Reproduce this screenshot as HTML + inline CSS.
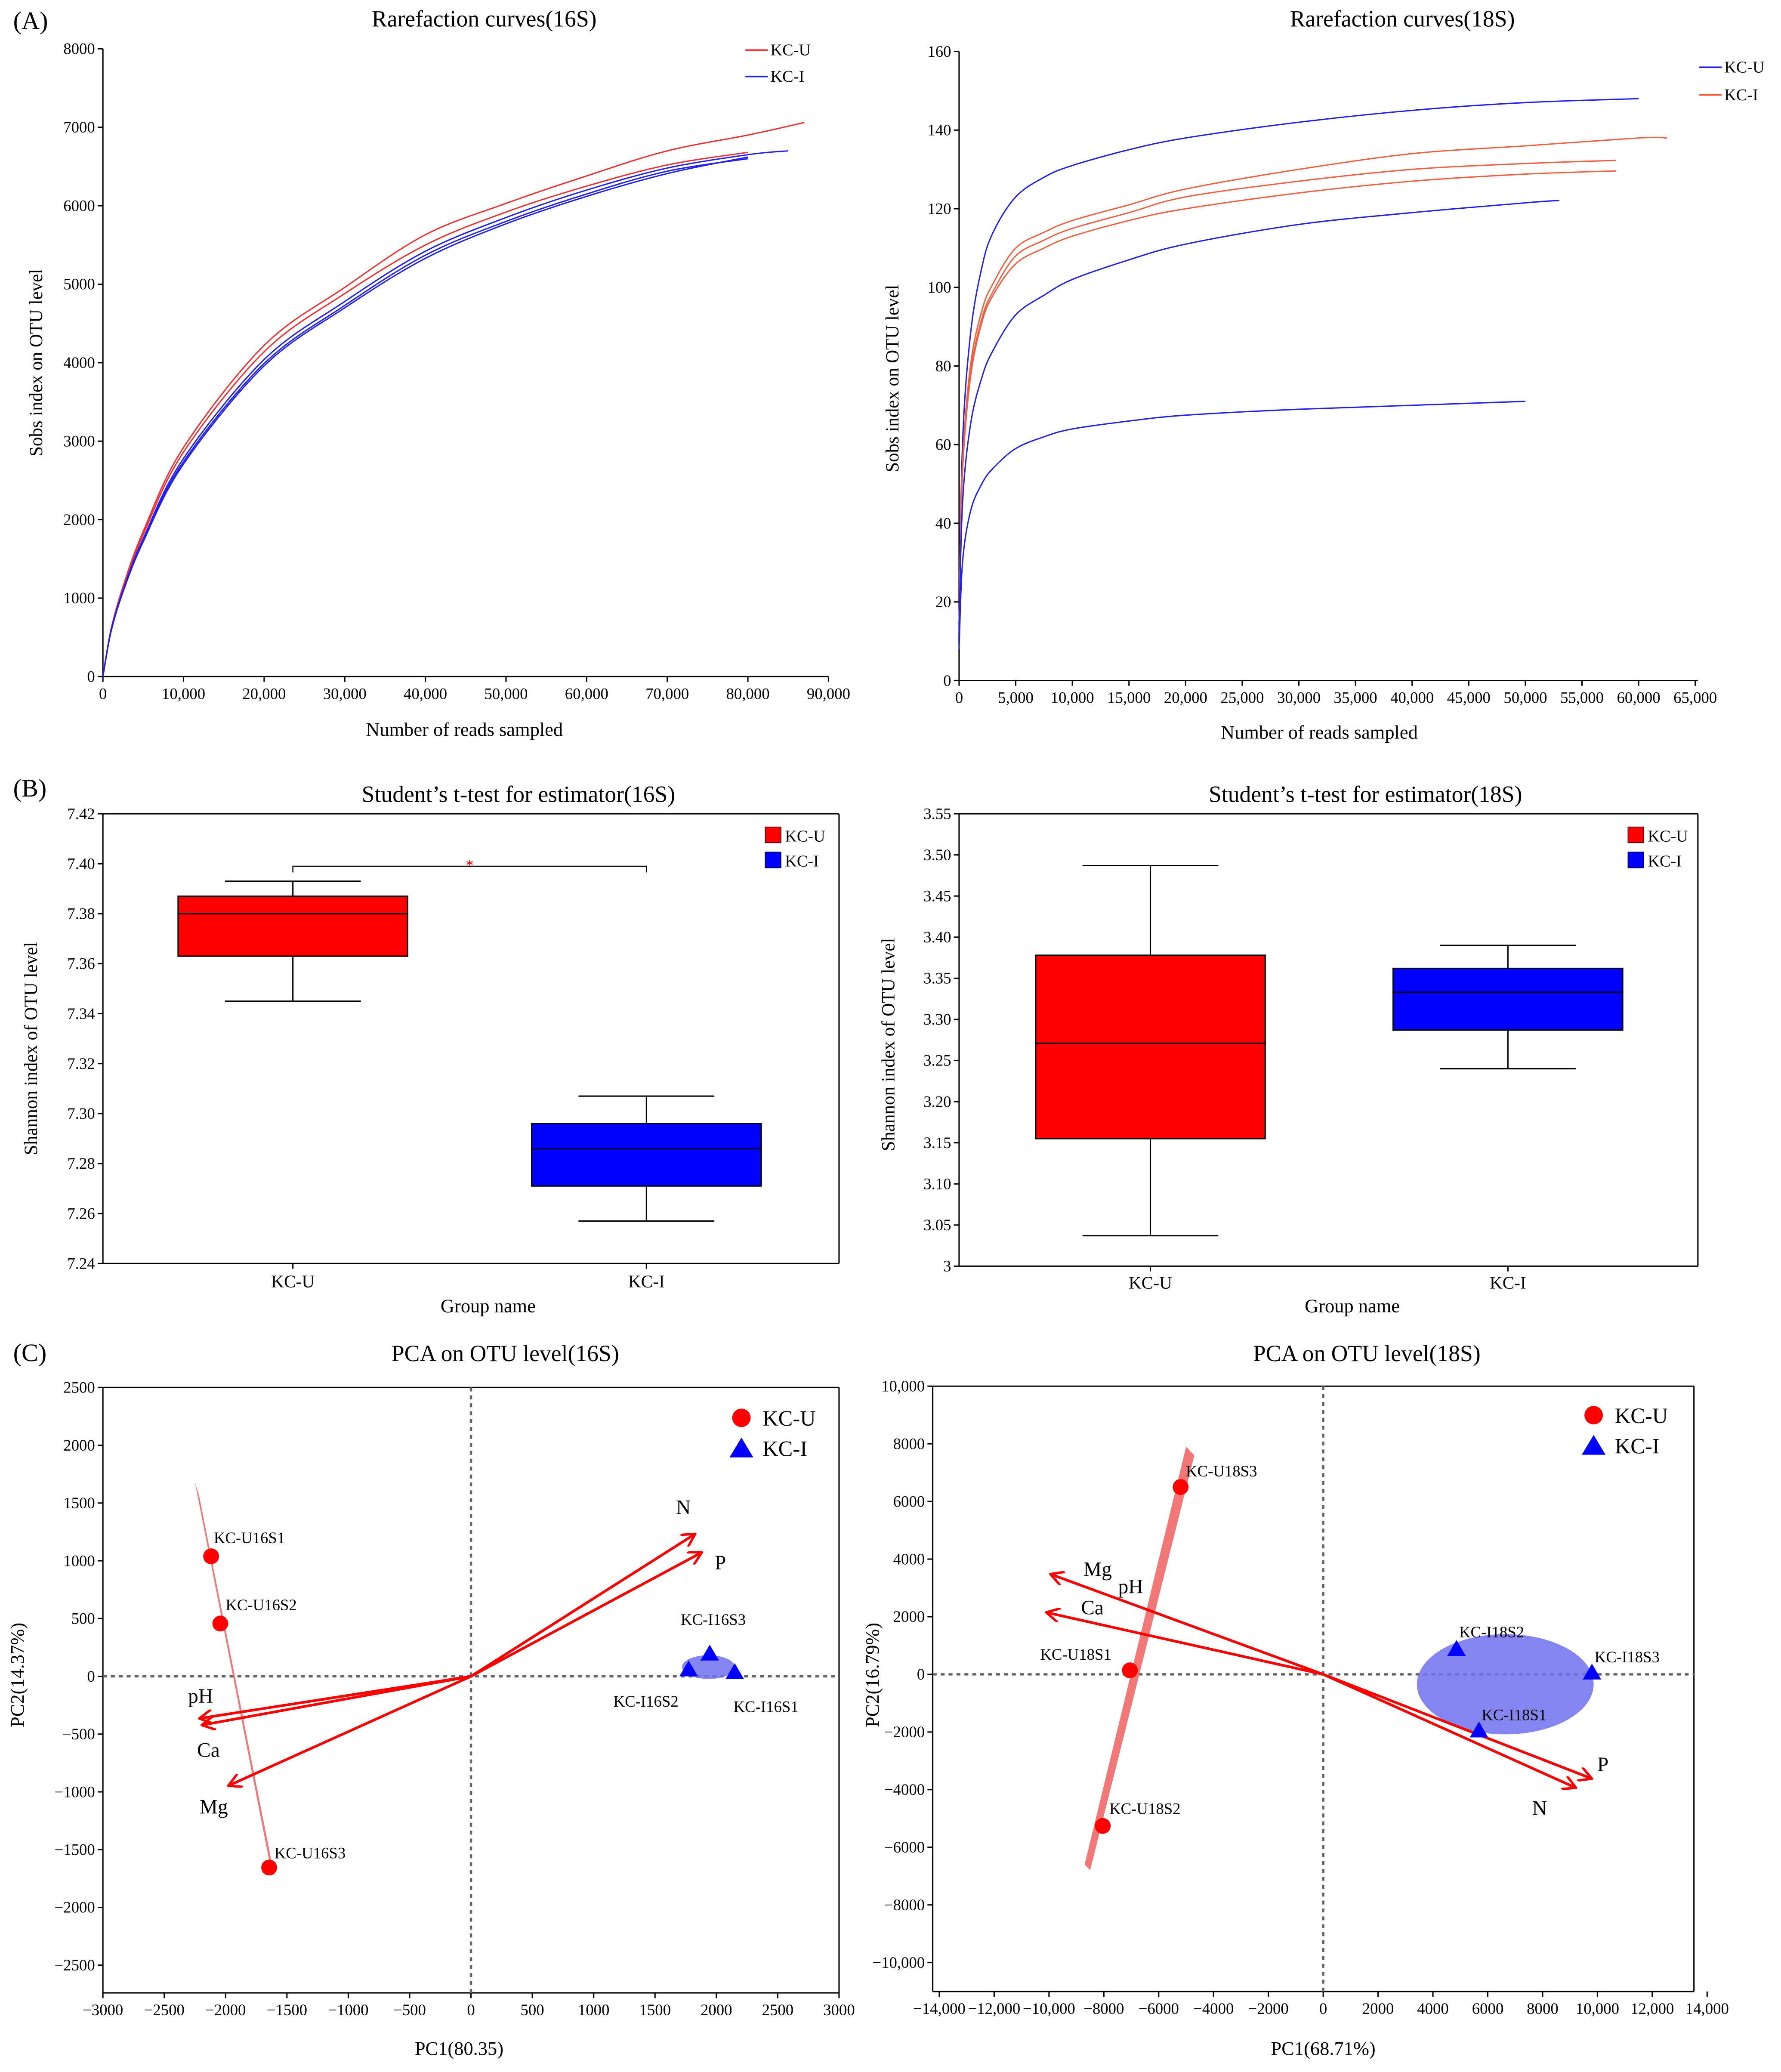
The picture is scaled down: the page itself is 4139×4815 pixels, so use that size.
<!DOCTYPE html>
<html><head><meta charset="utf-8"><style>
html,body{margin:0;padding:0;background:#fff;}
svg{display:block;font-family:"Liberation Serif",serif;}
</style></head><body>
<svg id="fig" width="4139" height="4815" viewBox="0 0 1350 1571" preserveAspectRatio="none" xmlns="http://www.w3.org/2000/svg">
<defs>
<marker id="ah" viewBox="0 0 12 12" refX="11" refY="6" markerWidth="11" markerHeight="11" orient="auto" markerUnits="userSpaceOnUse">
<path d="M0,0 L11,6 L0,12" fill="none" stroke="#f00" stroke-width="2"/></marker>
</defs>
<g id="root"></g>
</svg>
<script>
// ---------- Data: Rarefaction 16S ----------
const r16X = [0,1000,2500,5000,10000,20000,30000,40000,50000,60000,70000,80000,87000];
const r16Red1 = [0,600,1150,1850,2920,4220,4960,5630,6030,6380,6700,6900,7060];
const r16Red2 = [0,590,1130,1810,2860,4140,4880,5500,5920,6250,6520,6680];
const r16Blue1 = [0,580,1100,1760,2780,4040,4780,5420,5850,6200,6480,6650,6720];
const r16Blue2 = [0,575,1090,1740,2740,3990,4730,5370,5800,6150,6440,6600];
const r16Blue3 = [0,570,1080,1720,2710,3960,4700,5330,5770,6120,6410,6620];
const r16EndX = [87000,80000,85000,80000,82000];
// ---------- Data: Rarefaction 18S ----------
const r18X = [0,300,1000,2000,3000,5000,7500,10000,15000,20000,30000,40000,50000,60000,62500];
const r18Blue1 = [12,60,88,105,114,123,128,131,135,138,142,145,147,148];
const r18Red1 = [15,55,80,94,101,110,114,117,121,125,130,134,136,138,138];
const r18Red2 = [15,54,78,92,99,108,112,115,119,123,127,130,131.5,132.5];
const r18Red3 = [15,53,77,91,98,106,110,113,117,120,124,127,128.8,129.8];
const r18Blue2 = [12,45,65,77,84,93,98,102,107,111,116,119,121.5,123.5];
const r18Blue3 = [8,30,43,50,54,59,62,64,66,67.5,69,70,71];
const r18End = [60000,62500,58000,58000,53000,50000];
// ---------- Data: box plots ----------
const box16Groups = ["KC-U","KC-I"];
const box16Min = [7.345,7.257], box16Q1=[7.363,7.271], box16Med=[7.380,7.286], box16Q3=[7.387,7.296], box16Max=[7.393,7.307];
const box16Ticks = [7.24,7.26,7.28,7.30,7.32,7.34,7.36,7.38,7.40,7.42];
const box18Groups = ["KC-U","KC-I"];
const box18Min = [3.037,3.240], box18Q1=[3.155,3.287], box18Med=[3.271,3.333], box18Q3=[3.378,3.362], box18Max=[3.487,3.390];
// ---------- Data: PCA 16S ----------
const p16UNames=["KC-U16S1","KC-U16S2","KC-U16S3"], p16UX=[-2118,-2043,-1645], p16UY=[1039,457,-1655];
const p16INames=["KC-I16S1","KC-I16S2","KC-I16S3"], p16IX=[2150,1774,1946], p16IY=[34,57,194];
const p16ArrNames=["N","P","pH","Ca","Mg"], p16ArrX=[1828,1882,-2215,-2194,-1978], p16ArrY=[1233,1073,-365,-422,-947];
// ---------- Data: PCA 18S ----------
const p18UNames=["KC-U18S3","KC-U18S1","KC-U18S2"], p18UX=[-5200,-7050,-8040], p18UY=[6500,140,-5260];
const p18INames=["KC-I18S2","KC-I18S3","KC-I18S1"], p18IX=[4860,9800,5680], p18IY=[870,50,-1960];
const p18ArrNames=["Mg","Ca","N","P"], p18ArrX=[-9950,-10100,9220,9800], p18ArrY=[3480,2150,-3940,-3620];

const NS="http://www.w3.org/2000/svg";
const root=document.getElementById('root');
function mk(tag,attrs,parent,txt){const e=document.createElementNS(NS,tag);for(const k in attrs)e.setAttribute(k,attrs[k]);if(txt!==undefined)e.textContent=txt;(parent||root).appendChild(e);return e;}
function lin(d0,d1,r0,r1){return v=>r0+(v-d0)*(r1-r0)/(d1-d0);}
function fmt(v){return v.toString().replace(/\B(?=(\d{3})+(?!\d))/g,",");}

function txt(x,y,s,size,anchor,name,extra){const t=mk('text',Object.assign({x:x,y:y,'font-size':size,'text-anchor':anchor||'middle',fill:'#000'},extra||{}),root,s);

return t;}

function axes(x0,x1,y0,y1,xt,xs,yt,ys,xfmt,yfmt,frame,name){
  const g=mk('g',{});
  
  
  mk('line',{x1:x0,y1:y1,x2:x1,y2:y1,stroke:'#000','stroke-width':1},g);
  mk('line',{x1:x0,y1:y0,x2:x0,y2:y1,stroke:'#000','stroke-width':1},g);
  if(frame){mk('line',{x1:x0,y1:y0,x2:x1,y2:y0,stroke:'#000'},g);mk('line',{x1:x1,y1:y0,x2:x1,y2:y1,stroke:'#000'},g);}
  xt.forEach(v=>{const p=xs(v);mk('line',{x1:p,y1:y1,x2:p,y2:y1+4,stroke:'#000'},g);
    const t=mk('text',{x:p,y:y1+17,'font-size':12,'text-anchor':'middle'},g,xfmt(v));
    
    });
  yt.forEach(v=>{const p=ys(v);mk('line',{x1:x0-4,y1:p,x2:x0,y2:p,stroke:'#000'},g);
    const t=mk('text',{x:x0-6,y:p+4,'font-size':12,'text-anchor':'end'},g,yfmt(v));
    
    });
}
function smoothPath(pts){
  let d='M'+pts[0][0].toFixed(1)+','+pts[0][1].toFixed(1);
  for(let i=0;i<pts.length-1;i++){
    const p0=pts[Math.max(0,i-1)],p1=pts[i],p2=pts[i+1],p3=pts[Math.min(pts.length-1,i+2)];
    const c1=[p1[0]+(p2[0]-p0[0])/6,p1[1]+(p2[1]-p0[1])/6];
    const c2=[p2[0]-(p3[0]-p1[0])/6,p2[1]-(p3[1]-p1[1])/6];
    d+=` C${c1[0].toFixed(1)},${c1[1].toFixed(1)} ${c2[0].toFixed(1)},${c2[1].toFixed(1)} ${p2[0].toFixed(1)},${p2[1].toFixed(1)}`;
  }
  return d;
}
function curve(xs,ys,X,Y,color,name,endX){
  const n=Math.min(X.length,Y.length);let pts=[];
  for(let i=0;i<n;i++){let xv=X[i],yv=Y[i];if(endX!==undefined&&xv>endX){const t=(endX-X[i-1])/(xv-X[i-1]);yv=Y[i-1]+t*(yv-Y[i-1]);xv=endX;}pts.push([xs(xv),ys(yv)]);if(endX!==undefined&&X[i]>=endX)break;}
  const p=mk('path',{d:smoothPath(pts),fill:'none',stroke:color,'stroke-width':1});
  
  
}
function legLine(x,y,color,label){const l=mk('line',{x1:x,y1:y,x2:x+17,y2:y,stroke:color,'stroke-width':1.2});
  
  
  txt(x+19,y+4,label,12.5,'start','legend-label');}

// panel labels
txt(10,22,"(A)",19,'start','panel-label-a');
txt(10,604,"(B)",19,'start','panel-label-b');
txt(10,1032,"(C)",19,'start','panel-label-c');

// ===== A left =====
{const xs=lin(0,90000,78,628), ys=lin(0,8000,513,37);
 axes(78,628,37,513,[0,10000,20000,30000,40000,50000,60000,70000,80000,90000],xs,[0,1000,2000,3000,4000,5000,6000,7000,8000],ys,fmt,v=>v,false,'rarefaction-16s-axes');
 curve(xs,ys,r16X,r16Red1,'#f03030','curve-kcu-1',r16EndX[0]);
 curve(xs,ys,r16X,r16Red2,'#f03030','curve-kcu-2',r16EndX[1]);
 curve(xs,ys,r16X,r16Blue1,'#2020f0','curve-kci-1',r16EndX[2]);
 curve(xs,ys,r16X,r16Blue2,'#2020f0','curve-kci-2',r16EndX[3]);
 curve(xs,ys,r16X,r16Blue3,'#2020f0','curve-kci-3',r16EndX[4]);
 txt(367,20,"Rarefaction curves(16S)",17.5,'middle','chart-title-rare-16s');
 txt(352,558,"Number of reads sampled",14.5,'middle','x-axis-title');
 txt(32,275,"Sobs index on OTU level",14,'middle','y-axis-title',{transform:'rotate(-90 32 275)'});
 legLine(565,38,'#f03030','KC-U'); legLine(565,58,'#2020f0','KC-I');}

// ===== A right =====
{const xs=lin(0,65000,727,1285), ys=lin(0,160,516,39);
 const xt=[];for(let v=0;v<=65000;v+=5000)xt.push(v);
 axes(727,1287,39,516,xt,xs,[0,20,40,60,80,100,120,140,160],ys,fmt,v=>v,false,'rarefaction-18s-axes');
 curve(xs,ys,r18X,r18Blue1,'#2020f0','curve-kcu-1',r18End[0]);
 curve(xs,ys,r18X,r18Red1,'#f06040','curve-kci-1',r18End[1]);
 curve(xs,ys,r18X,r18Red2,'#f06040','curve-kci-2',r18End[2]);
 curve(xs,ys,r18X,r18Red3,'#f06040','curve-kci-3',r18End[3]);
 curve(xs,ys,r18X,r18Blue2,'#2020f0','curve-kcu-2',r18End[4]);
 curve(xs,ys,r18X,r18Blue3,'#2020f0','curve-kcu-3',r18End[5]);
 txt(1063,20,"Rarefaction curves(18S)",17.5,'middle','chart-title-rare-18s');
 txt(1000,560,"Number of reads sampled",14.5,'middle','x-axis-title');
 txt(681,287,"Sobs index on OTU level",14,'middle','y-axis-title',{transform:'rotate(-90 681 287)'});
 legLine(1288,51,'#2020f0','KC-U'); legLine(1288,72,'#f06040','KC-I');}

function boxes(ys,cx,hw,mins,q1,med,q3,max,colors,names){
  for(let i=0;i<cx.length;i++){
   const g=mk('g',{});
   
   
   mk('line',{x1:cx[i],y1:ys(max[i]),x2:cx[i],y2:ys(mins[i]),stroke:'#000'},g);
   mk('line',{x1:cx[i]-hw/2-8,y1:ys(max[i]),x2:cx[i]+hw/2+8,y2:ys(max[i]),stroke:'#000'},g);
   mk('line',{x1:cx[i]-hw/2-8,y1:ys(mins[i]),x2:cx[i]+hw/2+8,y2:ys(mins[i]),stroke:'#000'},g);
   mk('rect',{x:cx[i]-hw,y:ys(q3[i]),width:2*hw,height:ys(q1[i])-ys(q3[i]),fill:colors[i],stroke:'#000'},g);
   mk('line',{x1:cx[i]-hw,y1:ys(med[i]),x2:cx[i]+hw,y2:ys(med[i]),stroke:'#000'},g);
  }
}
function legBox(x,y,color,label){const r=mk('rect',{x:x,y:y-6,width:12,height:12,fill:color,stroke:'#000','stroke-width':0.5});
  
  
  txt(x+15,y+5,label,12.5,'start','legend-label');}

// ===== B left =====
{const ys=lin(7.24,7.42,958,617);
 const cx=[222,490];
 axes(78,636,617,958,[],null,box16Ticks,ys,v=>v,v=>v.toFixed(2),true,'box-16s-axes');
 cx.forEach((c,i)=>{mk('line',{x1:c,y1:958,x2:c,y2:962,stroke:'#000'});txt(c,976,box16Groups[i],13.5,'middle','x-tick-label');});
 boxes(ys,cx,87,box16Min,box16Q1,box16Med,box16Q3,box16Max,['#ff0000','#0000ff'],box16Groups);
 const sl=mk('path',{d:`M${cx[0]},${ys(7.3965)} V${ys(7.399)} H${cx[1]} V${ys(7.3965)}`,fill:'none',stroke:'#000','stroke-width':0.8});
 
 
 txt(356,660,"*",12,'middle','significance-star',{fill:'#f00'});
 txt(393,608,"Student’s t-test for estimator(16S)",17.5,'middle','chart-title-box-16s');
 txt(370,995,"Group name",14.5,'middle','x-axis-title');
 txt(28,795,"Shannon index of OTU level",14,'middle','y-axis-title',{transform:'rotate(-90 28 795)'});
 legBox(580,633,'#ff0000','KC-U'); legBox(580,652,'#0000ff','KC-I');}

// ===== B right =====
{const ys=lin(3,3.55,960,617);
 const yt=[];for(let v=3;v<=3.5501;v+=0.05)yt.push(+v.toFixed(2));
 const cx=[872,1143];
 axes(727,1287,617,960,[],null,yt,ys,v=>v,v=>(v===3?'3':v.toFixed(2)),true,'box-18s-axes');
 cx.forEach((c,i)=>{mk('line',{x1:c,y1:960,x2:c,y2:964,stroke:'#000'});txt(c,977,box18Groups[i],13.5,'middle','x-tick-label');});
 boxes(ys,cx,87,box18Min,box18Q1,box18Med,box18Q3,box18Max,['#ff0000','#0000ff'],box18Groups);
 txt(1035,608,"Student’s t-test for estimator(18S)",17.5,'middle','chart-title-box-18s');
 txt(1025,995,"Group name",14.5,'middle','x-axis-title');
 txt(678,792,"Shannon index of OTU level",14,'middle','y-axis-title',{transform:'rotate(-90 678 792)'});
 legBox(1234,633,'#ff0000','KC-U'); legBox(1234,652,'#0000ff','KC-I');}

function pca(cfg){
 const {xs,ys,x0,x1,y0,y1}=cfg;
 axes(x0,x1,y0,y1,cfg.xt,xs,cfg.yt,ys,cfg.xf,cfg.yf,true,cfg.name+'-axes');
 const dx=mk('line',{x1:xs(0),y1:y0,x2:xs(0),y2:y1,stroke:'#666','stroke-width':1.8,'stroke-dasharray':'3,3'});
 
 
 const dy=mk('line',{x1:x0,y1:ys(0),x2:x1,y2:ys(0),stroke:'#666','stroke-width':1.8,'stroke-dasharray':'3,3'});
 
 
 const re=cfg.redEll;
 const rp=mk('polygon',{points:re.map(p=>xs(p[0])+','+ys(p[1])).join(' '),fill:'#f06060',opacity:0.85});
 
 
 const be=cfg.blueEll;
 const bp=mk('ellipse',{cx:be[0],cy:be[1],rx:be[2],ry:be[3],fill:'#7070ee',opacity:0.85,transform:`rotate(${be[4]} ${be[0]} ${be[1]})`});
 
 
 cfg.aX.forEach((v,i)=>{const a=mk('line',{x1:xs(0),y1:ys(0),x2:xs(v),y2:ys(cfg.aY[i]),stroke:'#f00','stroke-width':2,'marker-end':'url(#ah)'});
  
  });
 cfg.aLab.forEach((l,i)=>txt(l[0],l[1],cfg.aN[i],15.5,'middle','arrow-label-'+cfg.aN[i].toLowerCase()));
 cfg.uX.forEach((v,i)=>{const c=mk('circle',{cx:xs(v),cy:ys(cfg.uY[i]),r:6,fill:'#f00'});
  
  
  txt(xs(v)+cfg.uOff[i][0],ys(cfg.uY[i])+cfg.uOff[i][1],cfg.uN[i],12,'start','point-label');});
 cfg.iX.forEach((v,i)=>{const px=xs(v),py=ys(cfg.iY[i]);const t=mk('polygon',{points:`${px},${py-7} ${px-7},${py+5} ${px+7},${py+5}`,fill:'#00f'});
  
  
  txt(px+cfg.iOff[i][0],py+cfg.iOff[i][1],cfg.iN[i],12,'start','point-label');});
 const lx=cfg.leg[0],ly=cfg.leg[1];
 const lc=mk('circle',{cx:lx,cy:ly,r:7,fill:'#f00'});
 
 
 const lt=mk('polygon',{points:`${lx},${ly+15} ${lx-9},${ly+30} ${lx+9},${ly+30}`,fill:'#00f'});
 
 
 txt(lx+16,ly+6,"KC-U",16.5,'start','legend-label');
 txt(lx+16,ly+29,"KC-I",16.5,'start','legend-label');
}

// ===== C left =====
{const xs=lin(-3000,3000,78,636), ys=lin(-2500,2500,1490,1052);
 const xt=[];for(let v=-3000;v<=3000;v+=500)xt.push(v);
 const yt=[];for(let v=-2500;v<=2500;v+=500)yt.push(v);
 pca({name:'pca-16s',xs,ys,x0:78,x1:636,y0:1052,y1:1511,xt,yt,xf:v=>v<0?'\u2212'+(-v):v,yf:v=>v<0?'\u2212'+(-v):v,
  redEll:[[-2250,1680],[-2215,1560],[-1600,-1740],[-1640,-1620]],blueEll:[537,1264,20,9,0],
  aX:p16ArrX,aY:p16ArrY,aN:p16ArrNames,aLab:[[518,1148],[546,1190],[152,1291],[158,1332],[162,1375]],
  uX:p16UX,uY:p16UY,uN:p16UNames,uOff:[[2,-10],[4,-10],[4,-7]],
  iX:p16IX,iY:p16IY,iN:p16INames,iOff:[[-1,30],[-57,28],[-22,-22]],leg:[562,1075]});
 txt(383,1032,"PCA on OTU level(16S)",17.5,'middle','chart-title-pca-16s');
 txt(348,1558,"PC1(80.35)",14.5,'middle','x-axis-title');
 txt(18,1270,"PC2(14.37%)",14.5,'middle','y-axis-title',{transform:'rotate(-90 18 1270)'});}

// ===== C right =====
{const xs=lin(-14000,14000,712,1294), ys=lin(-10000,10000,1488,1051);
 const xt=[];for(let v=-14000;v<=14000;v+=2000)xt.push(v);
 const yt=[];for(let v=-10000;v<=10000;v+=2000)yt.push(v);
 const fx=v=>v<0?'\u2212'+(-v>=10000?fmt(-v):String(-v)):(v>=10000?fmt(v):String(v));
 pca({name:'pca-18s',xs,ys,x0:707,x1:1284,y0:1051,y1:1510,xt,yt,xf:fx,yf:fx,
  redEll:[[-5000,7900],[-4700,7600],[-8500,-6800],[-8700,-6600]],blueEll:[1141,1277,67,38,0],
  aX:p18ArrX,aY:p18ArrY,aN:p18ArrNames,aLab:[[832,1195],[828,1224],[1167,1376],[1215,1343]],
  uX:p18UX,uY:p18UY,uN:p18UNames,uOff:[[4,-8],[-68,-8],[5,-9]],
  iX:p18IX,iY:p18IY,iN:p18INames,iOff:[[2,-9],[2,-8],[2,-8]],leg:[1208,1073]});
 txt(857,1208,"pH",15.5,'middle','arrow-label-ph');
 txt(1036,1032,"PCA on OTU level(18S)",17.5,'middle','chart-title-pca-18s');
 txt(1003,1558,"PC1(68.71%)",14.5,'middle','x-axis-title');
 txt(666,1270,"PC2(16.79%)",14.5,'middle','y-axis-title',{transform:'rotate(-90 666 1270)'});}
</script>
</body></html>
